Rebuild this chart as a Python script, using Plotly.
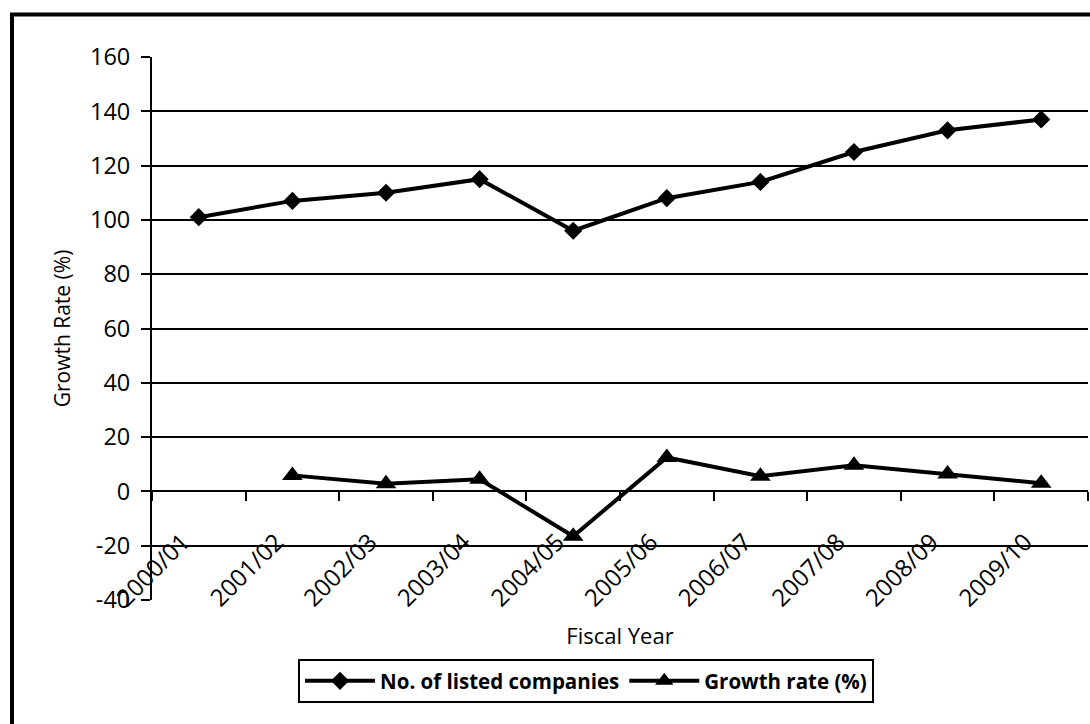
import plotly.graph_objects as go

fiscal_years = ["2000/01", "2001/02", "2002/03", "2003/04", "2004/05",
                "2005/06", "2006/07", "2007/08", "2008/09", "2009/10"]
listed_companies = [101, 107, 110, 115, 96, 108, 114, 125, 133, 137]
growth_rate = [None, 5.9, 2.8, 4.5, -16.5, 12.5, 5.6, 9.6, 6.4, 3.0]
y_ticks = [-40, -20, 0, 20, 40, 60, 80, 100, 120, 140, 160]
y_tick_labels = ["-40", "-20", "0", "20", "40", "60", "80", "100", "120", "140", "160"]

FONT = "Open Sans"

fig = go.Figure()
fig.add_trace(go.Scatter(
    x=fiscal_years, y=listed_companies, name="No. of listed companies",
    mode="lines+markers",
    line=dict(color="black", width=4),
    marker=dict(symbol="diamond", size=14, color="black"),
))
fig.add_trace(go.Scatter(
    x=fiscal_years, y=growth_rate, name="Growth rate (%)",
    mode="lines+markers",
    line=dict(color="black", width=4),
    marker=dict(symbol="triangle-up", size=18, color="black"),
))

fig.update_layout(
    width=1090, height=724,
    margin=dict(l=152, r=2, t=57, b=124),
    paper_bgcolor="white", plot_bgcolor="white",
    font=dict(family=FONT, color="black", size=21),
    showlegend=True,
    legend=dict(
        orientation="h", x=0.4637, xanchor="center", y=-0.1087, yanchor="top",
        bordercolor="black", borderwidth=2, bgcolor="white",
        font=dict(family=FONT, size=20.5, color="black", weight="bold"),
        itemwidth=70,
    ),
    xaxis=dict(
        type="category", range=[-0.5, 9.5],
        anchor="free", position=0.2,
        showline=True, linecolor="black", linewidth=2,
        ticks="outside", ticklen=9, tickwidth=2, tickcolor="black",
        tickson="boundaries", tickangle=-45,
        ticklabelstandoff=26, ticklabelshift=-16,
        showgrid=False, zeroline=False,
        tickfont=dict(family=FONT, size=24, color="black"),
        title=dict(text="Fiscal Year", font=dict(family=FONT, size=22, color="black"), standoff=16),
    ),
    yaxis=dict(
        range=[-40, 160], tickvals=y_ticks, ticktext=y_tick_labels,
        showline=True, linecolor="black", linewidth=2,
        ticks="outside", ticklen=9, tickwidth=2, tickcolor="black",
        showgrid=True, gridcolor="black", gridwidth=2,
        zeroline=False,
        ticklabelstandoff=6,
        tickfont=dict(family=FONT, size=23.5, color="black"),
        title=dict(text="Growth Rate (%)", font=dict(family=FONT, size=21, color="black"), standoff=14),
    ),
    shapes=[dict(
        type="rect", xref="paper", yref="paper",
        x0=(12 - 152) / 936, x1=(1100 - 152) / 936,
        y0=(600 - 740) / 543, y1=(600 - 14.5) / 543,
        line=dict(color="black", width=4), fillcolor="rgba(0,0,0,0)",
        layer="above",
    )],
)

fig.write_html("out.html")
